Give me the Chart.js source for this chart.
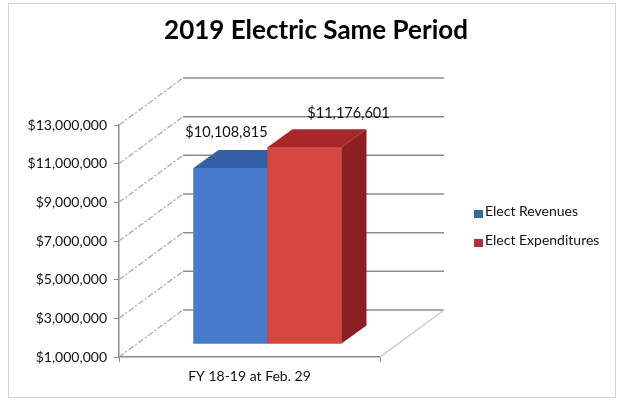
<!DOCTYPE html>
<html>
<head>
<meta charset="utf-8">
<script src="https://cdn.jsdelivr.net/npm/chart.js@4.4.0/dist/chart.umd.min.js"></script>
<style>
    html, body { margin: 0; padding: 0; background: #fff; }
    #wrap { position: relative; width: 621px; height: 402px; }
    #frame { position: absolute; left: 8px; top: 3px; width: 606px; height: 393px; border: 1px solid #d4d4d4; pointer-events: none; }
</style>
</head>
<body>
<div id="wrap">
    <canvas id="myChart" width="621" height="402"></canvas>
    <div id="frame"></div>
</div>
<script>
var chartTitle = '2019 Electric Same Period';
var categories = ['FY 18-19 at Feb. 29'];
var seriesNames = ['Elect Revenues', 'Elect Expenditures'];
var revenues = [10108815];
var expenditures = [11176601];
var yTicks = [1000000, 3000000, 5000000, 7000000, 9000000, 11000000, 13000000];

var frontColors = ['#467bcb', '#d4483f'];
var topColors = ['#3560a6', '#a8282a'];
var sideColors = ['#2c4f8a', '#8c1f22'];
var legendColors = ['#2f6d93', '#b0303d'];

function money(v) {
    return '$' + Math.round(v).toLocaleString('en-US');
}

// fake 3d: walls, floor, bar depth
var WALL_DX = 64, WALL_DY = -47;
var SHIFT_X = 18, SHIFT_Y = -13;
var BAR_DX = 25, BAR_DY = -18;
var labelNudge = [[-4, -36], [44, -34]];

var threeD = {
    id: 'threeD',
    beforeDatasetsDraw: function (chart) {
        var ctx = chart.ctx;
        var y = chart.scales.y;
        var area = chart.chartArea;
        ctx.save();
        yTicks.forEach(function (v) {
            var py = y.getPixelForValue(v);
            ctx.lineWidth = 1.2;
            ctx.strokeStyle = '#aaa2aa';
            ctx.setLineDash([6, 2, 2, 2]);
            ctx.beginPath();
            ctx.moveTo(area.left, py);
            ctx.lineTo(area.left + WALL_DX, py + WALL_DY);
            ctx.stroke();
            ctx.setLineDash([]);
            ctx.strokeStyle = '#8c8c8c';
            ctx.lineWidth = 1.5;
            ctx.beginPath();
            ctx.moveTo(area.left + WALL_DX, py + WALL_DY);
            ctx.lineTo(area.right + WALL_DX, py + WALL_DY);
            ctx.stroke();
        });
        ctx.lineWidth = 1.2;
        ctx.strokeStyle = '#c4c4c4';
        ctx.beginPath();
        ctx.moveTo(area.right, area.bottom);
        ctx.lineTo(area.right + WALL_DX, area.bottom + WALL_DY);
        ctx.stroke();
        ctx.restore();
        ctx.save();
        ctx.translate(SHIFT_X, SHIFT_Y);
    },
    afterDatasetsDraw: function (chart) {
        var ctx = chart.ctx;
        chart.data.datasets.forEach(function (ds, i) {
            var meta = chart.getDatasetMeta(i);
            meta.data.forEach(function (el) {
                el.draw(ctx);
                var x0 = el.x - el.width / 2, x1 = el.x + el.width / 2;
                var yt = el.y, yb = el.base;
                ctx.fillStyle = topColors[i];
                ctx.beginPath();
                ctx.moveTo(x0, yt);
                ctx.lineTo(x1, yt);
                ctx.lineTo(x1 + BAR_DX, yt + BAR_DY);
                ctx.lineTo(x0 + BAR_DX, yt + BAR_DY);
                ctx.closePath();
                ctx.fill();
                ctx.fillStyle = sideColors[i];
                ctx.beginPath();
                ctx.moveTo(x1, yt);
                ctx.lineTo(x1 + BAR_DX, yt + BAR_DY);
                ctx.lineTo(x1 + BAR_DX, yb + BAR_DY);
                ctx.lineTo(x1, yb);
                ctx.closePath();
                ctx.fill();
            });
        });
        chart.data.datasets.forEach(function (ds, i) {
            var meta = chart.getDatasetMeta(i);
            meta.data.forEach(function (el, j) {
                ctx.fillStyle = '#111';
                ctx.font = '14.5px Lato';
                ctx.textAlign = 'center';
                ctx.textBaseline = 'middle';
                ctx.fillText(money(ds.data[j]), el.x + labelNudge[i][0], el.y + labelNudge[i][1]);
            });
        });
        ctx.restore();

        // legend
        ctx.save();
        ctx.font = '14px Lato';
        ctx.textBaseline = 'middle';
        ctx.textAlign = 'left';
        chart.data.datasets.forEach(function (ds, i) {
            var ly = 213 + i * 29;
            ctx.fillStyle = legendColors[i];
            ctx.fillRect(474, ly - 3, 9, 8);
            ctx.fillStyle = '#111';
            ctx.fillText(ds.label, 485, ly - 2);
        });
        ctx.restore();
    },
    afterDraw: function (chart) {
        var ctx = chart.ctx;
        ctx.save();
        ctx.font = 'bold 26px Lato';
        ctx.fillStyle = '#000';
        ctx.textAlign = 'center';
        ctx.textBaseline = 'middle';
        ctx.fillText(chartTitle, 316, 31);
        ctx.restore();
    }
};

var myChart = document.getElementById('myChart');
var new_chart = new Chart(myChart, {
    type: 'bar',
    data: {
        labels: categories,
        datasets: [{
            label: seriesNames[0],
            data: revenues,
            backgroundColor: frontColors[0],
            borderWidth: 0
        }, {
            label: seriesNames[1],
            data: expenditures,
            backgroundColor: frontColors[1],
            borderWidth: 0
        }]
    },
    options: {
        responsive: false,
        animation: false,
        devicePixelRatio: 1,
        layout: { padding: { left: 0, right: 241, top: 125, bottom: 0 } },
        datasets: { bar: { categoryPercentage: 0.567, barPercentage: 1, base: yTicks[0] } },
        plugins: {
            legend: { display: false },
            tooltip: { enabled: false },
            title: { display: false }
        },
        scales: {
            x: {
                afterFit: function (scale) { scale.height = 45; },
                border: { display: true, color: '#8c8c8c', width: 1.5 },
                grid: { display: true, drawOnChartArea: false, tickLength: 5, color: '#8c8c8c' },
                ticks: { color: '#111', padding: 6, font: { family: 'Lato', size: 14 } }
            },
            y: {
                min: 1000000,
                max: 13000000,
                afterFit: function (scale) { scale.width = 119; },
                border: { display: true, color: '#8c8c8c', width: 1.5 },
                grid: { display: true, drawOnChartArea: false, tickLength: 5, color: '#8c8c8c' },
                ticks: {
                    stepSize: 2000000,
                    color: '#111',
                    padding: 7,
                    font: { family: 'Lato', size: 14 },
                    callback: function (v) { return money(v); }
                }
            }
        }
    },
    plugins: [threeD]
});
</script>
</body>
</html>
